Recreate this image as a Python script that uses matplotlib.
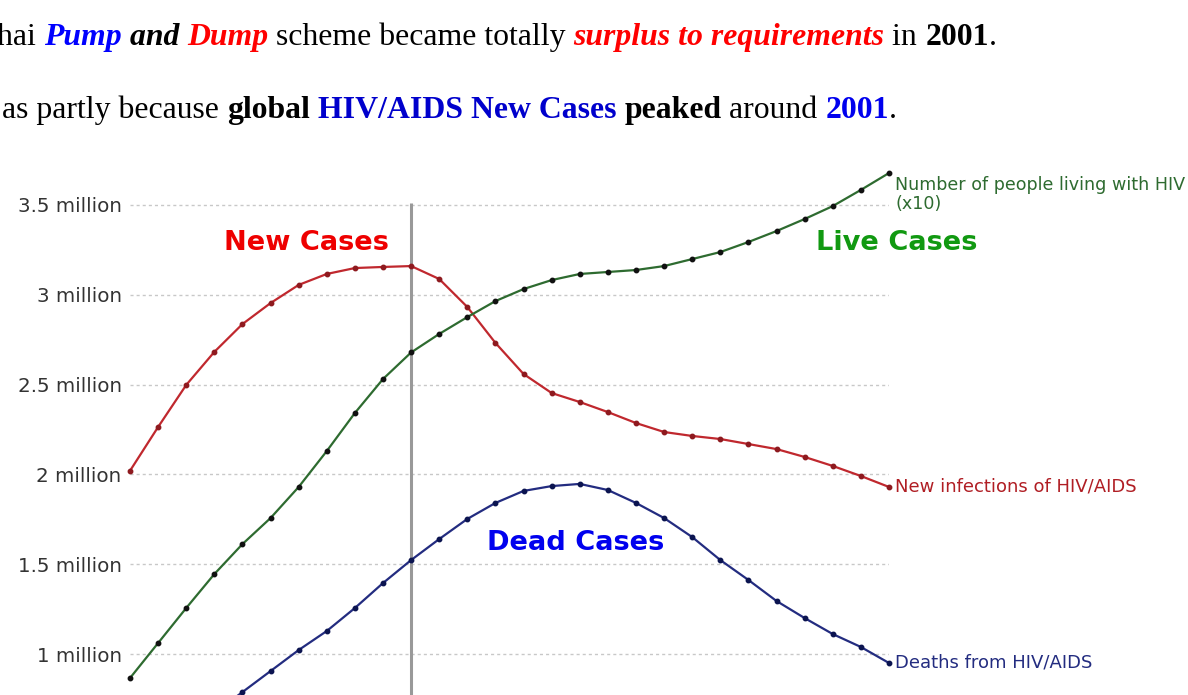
import matplotlib
matplotlib.use("Agg")
import matplotlib.pyplot as plt

# ---------------- data ----------------
years = list(range(1990, 2018))
new_infections = [2.02, 2.264, 2.498, 2.682, 2.837, 2.954, 3.055, 3.116, 3.149, 3.155,
                  3.160, 3.088, 2.932, 2.732, 2.559, 2.453, 2.403, 2.347, 2.286, 2.236,
                  2.214, 2.197, 2.169, 2.141, 2.097, 2.047, 1.991, 1.930]
living_x10 = [0.866, 1.061, 1.256, 1.445, 1.612, 1.757, 1.930, 2.130, 2.342, 2.531,
              2.679, 2.782, 2.876, 2.965, 3.032, 3.082, 3.116, 3.127, 3.138, 3.160,
              3.199, 3.238, 3.294, 3.355, 3.422, 3.494, 3.584, 3.678]
deaths = [0.35, 0.45, 0.56, 0.67, 0.788, 0.905, 1.022, 1.128, 1.256, 1.395,
          1.523, 1.640, 1.752, 1.841, 1.908, 1.935, 1.947, 1.913, 1.841, 1.757,
          1.651, 1.523, 1.412, 1.295, 1.200, 1.111, 1.039, 0.950]
ytick_vals = [1.0, 1.5, 2.0, 2.5, 3.0, 3.5]
ytick_labels = ["1 million", "1.5 million", "2 million", "2.5 million", "3 million", "3.5 million"]
marker_year = 2000

W, H = 1188, 695
fig = plt.figure(figsize=(W / 100, H / 100), dpi=100)

ax_left, ax_right, ax_top, ax_bottom = 130, 889, 160, 695
ax = fig.add_axes([ax_left / W, (H - ax_bottom) / H, (ax_right - ax_left) / W, (ax_bottom - ax_top) / H])
ax.set_xlim(years[0], years[-1])
ylo = 3.5 - (695 - 205) / 179.6
yhi = 3.5 + (205 - 160) / 179.6
ax.set_ylim(ylo, yhi)
for s in ax.spines.values():
    s.set_visible(False)
ax.set_xticks([])
sans = "DejaVu Sans"
ax.set_yticks(ytick_vals, ytick_labels)
ax.tick_params(axis="y", length=0, pad=6, labelsize=14.3, labelcolor="#333333")
for lab in ax.get_yticklabels():
    lab.set_fontfamily(sans)
ax.yaxis.grid(True, color="#c8c8c8", linestyle=(0, (2.2, 2.2)), linewidth=1.0)
ax.set_axisbelow(True)

ax.vlines(marker_year, ylo, 3.511, color="#999999", linewidth=2.2, zorder=2)

ax.plot(years, new_infections, color="#c0282e", lw=1.6, marker="o", ms=3.2,
        mfc="#8e1a1f", mec="#8e1a1f", clip_on=False, zorder=3)
ax.plot(years, living_x10, color="#2e6b30", lw=1.6, marker="o", ms=3.2,
        mfc="#111111", mec="#111111", clip_on=False, zorder=3)
ax.plot(years, deaths, color="#232c80", lw=1.6, marker="o", ms=3.2,
        mfc="#0b1450", mec="#0b1450", clip_on=False, zorder=3)

# big category labels
ax.text(1996.26, 3.288, "New Cases", color="#ee0000", fontsize=19.6, fontweight="bold",
        family=sans, ha="center", va="center")
ax.text(2017.28, 3.288, "Live Cases", color="#119911", fontsize=19.6, fontweight="bold",
        family=sans, ha="center", va="center", clip_on=False)
ax.text(2005.84, 1.618, "Dead Cases", color="#0000ee", fontsize=19.6, fontweight="bold",
        family=sans, ha="center", va="center")

# end labels
xend = years[-1]
ax.annotate("Number of people living with HIV\n(x10)", (xend, living_x10[-1]),
            xytext=(6, -3), textcoords="offset pixels", ha="left", va="top",
            fontsize=12.6, color="#2e6b30", family=sans, linespacing=1.1,
            annotation_clip=False)
ax.annotate("New infections of HIV/AIDS", (xend, new_infections[-1]),
            xytext=(6, 0), textcoords="offset pixels", ha="left", va="center",
            fontsize=13, color="#b01e24", family=sans, annotation_clip=False)
ax.annotate("Deaths from HIV/AIDS", (xend, deaths[-1]),
            xytext=(6, 0), textcoords="offset pixels", ha="left", va="center",
            fontsize=13, color="#232c80", family=sans, annotation_clip=False)

# ---------------- rich header text ----------------
serif = "Liberation Serif"
line1 = [("hai ", "black", "normal", "normal"),
         ("Pump", "#0000ff", "bold", "italic"),
         (" and ", "black", "bold", "italic"),
         ("Dump", "#ff0000", "bold", "italic"),
         (" scheme became totally ", "black", "normal", "normal"),
         ("surplus to requirements", "#ff0000", "bold", "italic"),
         (" in ", "black", "normal", "normal"),
         ("2001", "black", "bold", "normal"),
         (".", "black", "normal", "normal")]
line2 = [("as partly because ", "black", "normal", "normal"),
         ("global", "black", "bold", "normal"),
         (" ", "black", "normal", "normal"),
         ("HIV/AIDS New Cases", "#0000cc", "bold", "normal"),
         (" ", "black", "normal", "normal"),
         ("peaked", "black", "bold", "normal"),
         (" around ", "black", "normal", "normal"),
         ("2001", "#0000ee", "bold", "normal"),
         (".", "black", "normal", "normal")]

renderer = fig.canvas.get_renderer()


def rich_line(parts, x0, baseline):
    x = x0
    for txt, col, wt, st in parts:
        t = fig.text(x / W, (H - baseline) / H, txt, color=col, fontweight=wt,
                     fontstyle=st, family=serif, fontsize=22.85, ha="left",
                     va="baseline")
        bb = t.get_window_extent(renderer=renderer)
        x += bb.width


rich_line(line1, -3, 45)
rich_line(line2, 2, 118)

fig.savefig("out.png", dpi=100)
